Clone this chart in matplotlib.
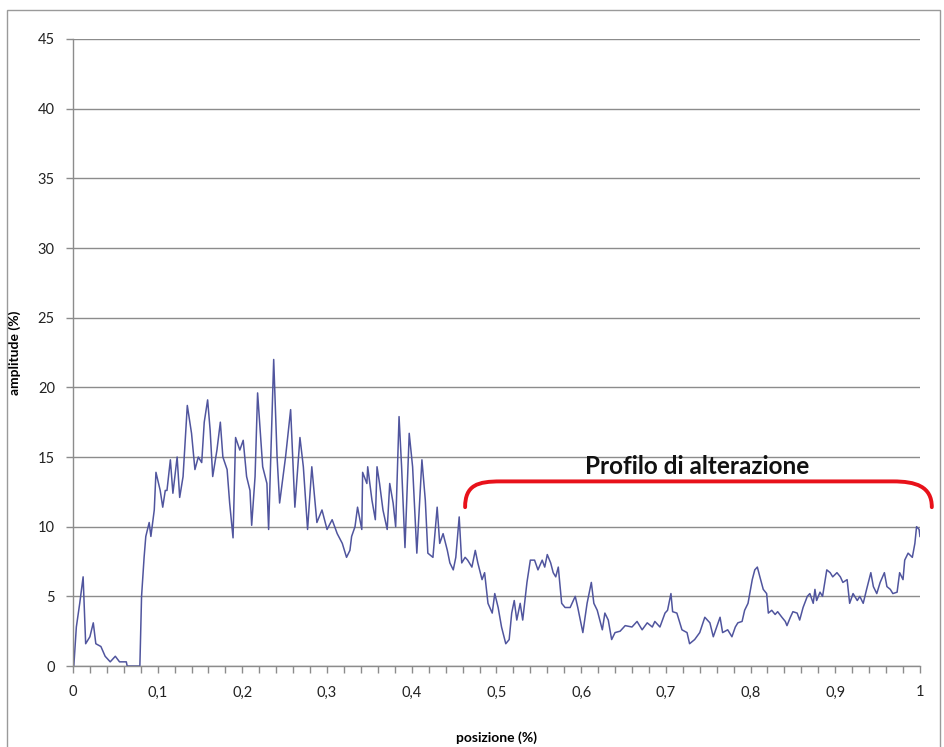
import matplotlib
matplotlib.use("Agg")
import matplotlib.pyplot as plt
from matplotlib.path import Path
from matplotlib.patches import PathPatch, Rectangle
from matplotlib.ticker import MultipleLocator, FuncFormatter

plt.rcParams['font.family'] = ['Lato', 'DejaVu Sans']

# posizione (fraction of profile) and amplitude (%)
posizione = [
    0.000, 0.001, 0.004, 0.008, 0.012, 0.015, 0.020, 0.024, 0.027, 0.033,
    0.038, 0.044, 0.050, 0.055, 0.063, 0.064, 0.079, 0.081, 0.084, 0.086,
    0.090, 0.092, 0.096, 0.098, 0.103, 0.106, 0.109, 0.111, 0.115, 0.118,
    0.123, 0.126, 0.130, 0.135, 0.140, 0.144, 0.148, 0.152, 0.155, 0.159,
    0.162, 0.165, 0.170, 0.174, 0.177, 0.182, 0.185, 0.189, 0.192, 0.197,
    0.201, 0.205, 0.209, 0.211, 0.215, 0.218, 0.224, 0.229, 0.231, 0.235,
    0.237, 0.241, 0.244, 0.251, 0.257, 0.262, 0.268, 0.272, 0.277, 0.282,
    0.288, 0.294, 0.300, 0.306, 0.312, 0.318, 0.323, 0.327, 0.329, 0.333,
    0.336, 0.341, 0.342, 0.347, 0.348, 0.353, 0.357, 0.359, 0.362, 0.366,
    0.371, 0.374, 0.378, 0.381, 0.385, 0.388, 0.392, 0.397, 0.401, 0.406,
    0.412, 0.416, 0.419, 0.425, 0.430, 0.433, 0.437, 0.442, 0.445, 0.449,
    0.452, 0.456, 0.459, 0.463, 0.466, 0.471, 0.475, 0.478, 0.483, 0.486,
    0.490, 0.495, 0.498, 0.502, 0.506, 0.511, 0.515, 0.518, 0.521, 0.524,
    0.528, 0.531, 0.536, 0.540, 0.545, 0.549, 0.554, 0.557, 0.560, 0.564,
    0.567, 0.570, 0.573, 0.577, 0.581, 0.587, 0.593, 0.596, 0.602, 0.607,
    0.612, 0.615, 0.619, 0.625, 0.628, 0.632, 0.636, 0.640, 0.646, 0.652,
    0.660, 0.666, 0.672, 0.678, 0.684, 0.687, 0.693, 0.699, 0.702, 0.706,
    0.708, 0.713, 0.719, 0.725, 0.728, 0.734, 0.740, 0.746, 0.752, 0.756,
    0.760, 0.764, 0.767, 0.773, 0.778, 0.782, 0.785, 0.790, 0.793, 0.797,
    0.802, 0.805, 0.808, 0.811, 0.815, 0.819, 0.821, 0.825, 0.829, 0.832,
    0.837, 0.841, 0.843, 0.847, 0.850, 0.855, 0.858, 0.862, 0.867, 0.870,
    0.874, 0.876, 0.878, 0.882, 0.885, 0.890, 0.894, 0.897, 0.902, 0.906,
    0.909, 0.914, 0.917, 0.921, 0.926, 0.929, 0.933, 0.937, 0.942, 0.945,
    0.949, 0.953, 0.958, 0.961, 0.965, 0.968, 0.973, 0.976, 0.980, 0.982,
    0.986, 0.991, 0.994, 0.996, 0.999, 1.000,
]
amplitude = [
    0.0, 0.0, 2.8, 4.5, 6.4, 1.6, 2.1, 3.1, 1.6, 1.4,
    0.7, 0.3, 0.7, 0.3, 0.3, 0.0, 0.0, 5.0, 7.8, 9.3,
    10.3, 9.3, 11.2, 13.9, 12.6, 11.4, 12.6, 12.6, 14.8, 12.4,
    15.0, 12.1, 13.6, 18.7, 16.7, 14.1, 15.0, 14.6, 17.5, 19.1,
    16.9, 13.6, 15.5, 17.5, 15.0, 14.1, 11.7, 9.2, 16.4, 15.5,
    16.2, 13.6, 12.6, 10.1, 13.6, 19.6, 14.3, 13.1, 9.8, 17.9,
    22.0, 15.0, 11.7, 15.0, 18.4, 11.4, 16.4, 14.3, 9.8, 14.3,
    10.3, 11.2, 9.8, 10.5, 9.5, 8.8, 7.8, 8.3, 9.3, 10.0,
    11.4, 9.8, 13.9, 13.1, 14.3, 11.9, 10.5, 14.3, 13.1, 11.2,
    9.8, 13.1, 11.7, 10.0, 17.9, 14.3, 8.5, 16.7, 14.3, 8.1,
    14.8, 11.9, 8.1, 7.8, 11.4, 8.8, 9.5, 8.3, 7.4, 6.9,
    7.8, 10.7, 7.4, 7.8, 7.6, 7.1, 8.3, 7.4, 6.2, 6.7,
    4.5, 3.8, 5.2, 4.2, 2.8, 1.6, 1.9, 3.8, 4.7, 3.3,
    4.5, 3.3, 6.0, 7.6, 7.6, 6.9, 7.6, 7.1, 8.0, 7.4,
    6.7, 6.4, 7.1, 4.5, 4.2, 4.2, 5.0, 4.2, 2.4, 4.5,
    6.0, 4.5, 4.0, 2.6, 3.8, 3.3, 1.9, 2.4, 2.5, 2.9,
    2.8, 3.2, 2.6, 3.1, 2.8, 3.2, 2.8, 3.8, 4.0, 5.2,
    3.9, 3.8, 2.6, 2.4, 1.6, 1.9, 2.4, 3.5, 3.1, 2.1,
    2.8, 3.5, 2.4, 2.6, 2.1, 2.8, 3.1, 3.2, 4.0, 4.5,
    6.2, 6.9, 7.1, 6.4, 5.5, 5.2, 3.8, 4.0, 3.7, 3.9,
    3.5, 3.2, 2.9, 3.5, 3.9, 3.8, 3.3, 4.2, 5.0, 5.2,
    4.5, 5.5, 4.7, 5.3, 5.0, 6.9, 6.7, 6.4, 6.7, 6.4,
    6.0, 6.2, 4.5, 5.2, 4.7, 5.0, 4.5, 5.5, 6.7, 5.7,
    5.2, 6.0, 6.7, 5.7, 5.5, 5.2, 5.3, 6.7, 6.2, 7.6,
    8.1, 7.8, 8.8, 10.0, 9.8, 9.3,
]

label_text = "Profilo di alterazione"

fig = plt.figure(figsize=(9.45, 7.47), dpi=100)
ax = fig.add_axes([0.0772, 0.1084, 0.8963, 0.8394])

ax.plot(posizione, amplitude, color='#50559e', lw=1.1)

ax.set_xlim(0, 1)
ax.set_ylim(0, 45)
ax.yaxis.set_major_locator(MultipleLocator(5))
ax.xaxis.set_major_locator(MultipleLocator(0.1))
ax.xaxis.set_minor_locator(MultipleLocator(0.02))
ax.xaxis.set_major_formatter(FuncFormatter(
    lambda v, p: ('%g' % round(v, 2)).replace('.', ',')))

ax.grid(axis='y', color='#8c8c8c', lw=1.0)
ax.set_axisbelow(True)
for s in ['top', 'right']:
    ax.spines[s].set_visible(False)
for s in ['left', 'bottom']:
    ax.spines[s].set_color('#8c8c8c')
    ax.spines[s].set_linewidth(1.0)
ax.tick_params(axis='both', which='both', color='#8c8c8c', length=5,
               width=1.0, labelsize=10.5, labelcolor='#222222')
ax.tick_params(axis='x', pad=9)
ax.tick_params(axis='y', pad=8)

ax.set_xlabel('posizione (%)', fontsize=10, fontweight='bold', labelpad=23)
ax.set_ylabel('amplitude (%)', fontsize=10, fontweight='bold', labelpad=12)

# red bracket above the alteration zone
verts = [(0.463, 11.4), (0.463, 13.0), (0.478, 13.25), (0.505, 13.25),
         (0.968, 13.25),
         (0.995, 13.25), (1.014, 12.9), (1.014, 11.4)]
codes = [Path.MOVETO, Path.CURVE4, Path.CURVE4, Path.CURVE4,
         Path.LINETO,
         Path.CURVE4, Path.CURVE4, Path.CURVE4]
ax.add_patch(PathPatch(Path(verts, codes), fill=False, edgecolor='#e8111a',
                       lw=2.8, clip_on=False, capstyle='round'))
ax.text(0.737, 14.3, label_text, ha='center', va='center', fontsize=17.5,
        fontweight='bold', color='#111111')

# chart-area border
fig.patches.append(Rectangle((7 / 945, -0.01), 933 / 945, 1 - 10 / 747 + 0.01,
                             transform=fig.transFigure, fill=False,
                             edgecolor='#9a9a9a', lw=1.0))

fig.savefig('out.png', dpi=100)
